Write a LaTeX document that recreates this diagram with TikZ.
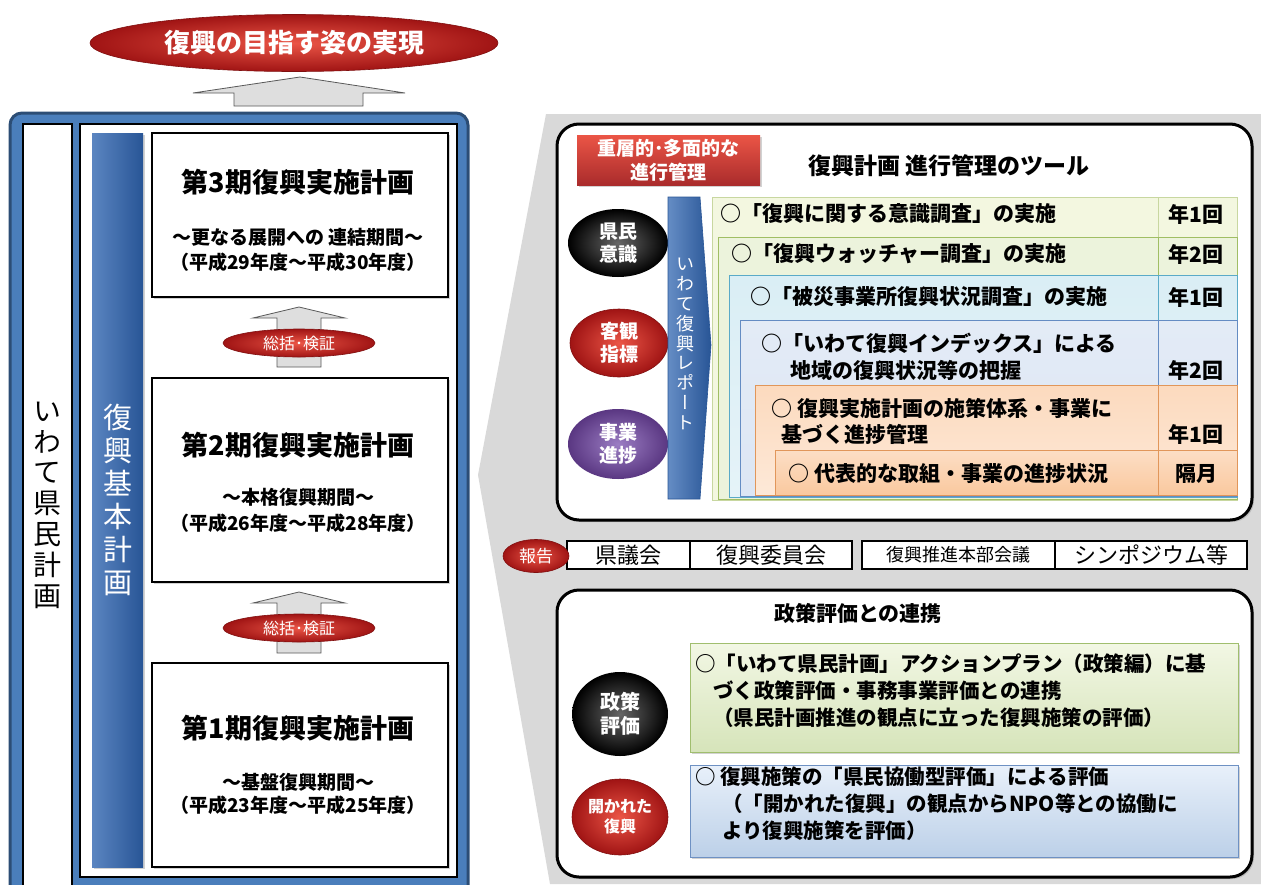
\documentclass[tikz,border=0pt]{standalone}
\usepackage{fontspec}
\setmainfont{Noto Sans CJK JP}
\newfontfamily\jpv[RawFeature={+vert}]{Noto Sans CJK JP}
\usetikzlibrary{shapes.geometric,shadows}
\newcommand\fsz[2]{\fontsize{#1}{#2}\selectfont}
\definecolor{redIn}{RGB}{235,85,70}
\definecolor{redOut}{RGB}{160,20,20}
\definecolor{frameBlue}{RGB}{74,126,187}
\definecolor{frameDark}{RGB}{44,77,117}
\definecolor{barBlue}{RGB}{62,112,182}
\definecolor{barDark}{RGB}{40,85,150}
\definecolor{arrowGray}{RGB}{222,222,222}
\definecolor{funnelGray}{RGB}{217,217,217}
\definecolor{cardA}{RGB}{243,247,224}
\definecolor{cardAb}{RGB}{200,215,160}
\definecolor{cardB}{RGB}{236,243,220}
\definecolor{cardBb}{RGB}{160,190,100}
\definecolor{cardC}{RGB}{218,238,245}
\definecolor{cardCb}{RGB}{90,170,200}
\definecolor{cardD}{RGB}{220,230,244}
\definecolor{cardDb}{RGB}{100,140,195}
\definecolor{cardE}{RGB}{252,218,190}
\definecolor{cardEb}{RGB}{225,150,90}
\definecolor{cardF}{RGB}{250,200,158}
\definecolor{purpIn}{RGB}{155,125,195}
\definecolor{purpOut}{RGB}{90,55,130}
\definecolor{greenTop}{RGB}{242,247,228}
\definecolor{greenBot}{RGB}{214,228,186}
\definecolor{greenBd}{RGB}{160,190,110}
\definecolor{blueTop}{RGB}{232,240,250}
\definecolor{blueBot}{RGB}{188,208,232}
\definecolor{blueBd}{RGB}{110,145,195}
\tikzset{
  shd/.style={drop shadow={opacity=0.35,shadow xshift=2pt,shadow yshift=-2pt}},
  redell/.style={ellipse, inner sep=0pt, shading=radial, inner color=redIn, outer color=redOut, draw=redOut!80!black, line width=0.6, text=white},
  blkell/.style={ellipse, inner sep=0pt, shading=radial, inner color=black!60, outer color=black, text=white, align=center},
  purpell/.style={ellipse, inner sep=0pt, shading=radial, inner color=purpIn, outer color=purpOut, text=white, align=center},
  wbox/.style={rectangle, draw=black, line width=2.5, fill=white, inner sep=0pt},
  panel/.style={rectangle, rounded corners=22, draw=black, line width=3, fill=white, inner sep=0pt, shd},
  grayarrow/.style={draw=black!65, line width=0.8, fill=arrowGray},
  card/.style={rectangle, anchor=north west, inner sep=0pt, line width=0.8},
  rowtxt/.style={anchor=west, inner sep=0pt, font=\bfseries\fsz{21}{24}},
  freqtxt/.style={inner sep=0pt, font=\bfseries\fsz{21}{24}},
  cell/.style={rectangle, draw=black, line width=2, fill=white, inner sep=0pt, minimum height=28},
  evtxt/.style={anchor=west, inner sep=0pt, font=\bfseries\fsz{20.5}{24}},
  ttl/.style={inner sep=0pt, font=\bfseries\fsz{27}{30}},
  sub/.style={inner sep=0pt, font=\bfseries\fsz{19}{22}}
}
\begin{document}
\begin{tikzpicture}[x=1pt,y=-1pt]
\useasboundingbox (0,0) rectangle (1261,884);
\fill[white] (0,0) rectangle (1261,884);
% gray funnel background
\fill[funnelGray] (478,475) -- (546,114) -- (1261,114) -- (1261,884) -- (550,884) -- cycle;
% goal ellipse and arrow
\node[redell, minimum width=408, minimum height=57, font=\bfseries\fsz{26}{28}] (goal) at (294,43) {復興の目指す姿の実現};
\draw[grayarrow] (234,106) -- (234,93) -- (193,93) -- (300,77) -- (405,93) -- (363,93) -- (363,106) -- cycle;
% blue frame
\draw[fill=frameBlue, draw=frameDark, line width=3, rounded corners=12] (10,113) rectangle (468,905);
% left white box
\node[wbox, minimum width=49, minimum height=770] (kenminbox) at (47.5,509) {};
\node[inner sep=0pt, align=center, font=\jpv\fsz{28}{30.8}] (kenmin) at (47.5,505) {い\\わ\\て\\県\\民\\計\\画};
% inner white box
\node[wbox, minimum width=377, minimum height=753] (inner) at (268.5,500.5) {};
% blue bar
\node[rectangle, inner sep=0pt, minimum width=51, minimum height=734, left color=barBlue!85!white, right color=barDark, shd] (kihonbar) at (117.5,500) {};
\node[inner sep=0pt, align=center, text=white, font=\jpv\fsz{29}{33}] (kihon) at (117.5,500) {復\\興\\基\\本\\計\\画};
% period boxes
\node[wbox, shd, minimum width=296, minimum height=164] (p3) at (300,215) {};
\node[ttl] (p3t) at (298,182) {第3期復興実施計画};
\node[sub] (p3s) at (298,237) {～更なる展開への 連結期間～};
\node[sub] (p3y) at (298,262) {（平成29年度～平成30年度）};
\node[wbox, shd, minimum width=296, minimum height=204] (p2) at (300,480) {};
\node[ttl] (p2t) at (298,445) {第2期復興実施計画};
\node[sub] (p2s) at (298,497) {～本格復興期間～};
\node[sub] (p2y) at (298,523) {（平成26年度～平成28年度）};
\node[wbox, shd, minimum width=296, minimum height=204] (p1) at (300,765) {};
\node[ttl] (p1t) at (298,728) {第1期復興実施計画};
\node[sub] (p1s) at (298,782) {～基盤復興期間～};
\node[sub] (p1y) at (298,805) {（平成23年度～平成25年度）};
% arrows between periods
\draw[grayarrow] (277,367) -- (277,318) -- (253,318) -- (299,307) -- (345,318) -- (321,318) -- (321,367) -- cycle;
\node[redell, minimum width=152, minimum height=28, font=\fsz{16}{17}] (rev2) at (299,343) {総括･検証};
\draw[grayarrow] (277,653) -- (277,603) -- (253,603) -- (299,592) -- (345,603) -- (321,603) -- (321,653) -- cycle;
\node[redell, minimum width=152, minimum height=28, font=\fsz{16}{17}] (rev1) at (299,628) {総括･検証};
% ===== top right panel
\node[panel, minimum width=695, minimum height=396] (tools) at (904.5,322) {};
\node[rectangle, inner sep=0pt, minimum width=183, minimum height=50, top color=redIn, bottom color=redOut!90, shd, align=center, text=white, font=\bfseries\fsz{19}{24}] (multi) at (668.5,160) {重層的･多面的な\\進行管理};
\node[inner sep=0pt, font=\bfseries\fsz{23}{26}] (toolttl) at (949,166) {復興計画 進行管理のツール};
\node[blkell, minimum width=100, minimum height=68, font=\bfseries\fsz{19}{23}] (ishiki) at (618,243) {県民\\意識};
\node[redell, align=center, minimum width=98, minimum height=68, font=\bfseries\fsz{19}{23}] (shihyo) at (619,343) {客観\\指標};
\node[purpell, minimum width=100, minimum height=70, font=\bfseries\fsz{19}{23}] (shinchoku) at (618,444) {事業\\進捗};
% report bar
\draw[left color=barBlue!80!white, right color=barDark, draw=barDark, line width=0.6] (668,197) -- (700,197) -- (711,345) -- (700,499) -- (668,499) -- cycle;
\node[inner sep=0pt, align=center, text=white, font=\jpv\fsz{18}{19.8}] (report) at (685,344) {い\\わ\\て\\復\\興\\レ\\ポ\\ー\\ト};
% stacked cards
\node[card, fill=cardA, draw=cardAb, minimum width=525, minimum height=303] (c1) at (712,197) {};
\draw[cardAb, line width=0.8] (1158,197) -- (1158,237);
\node[card, fill=cardB, draw=cardBb, minimum width=519, minimum height=262] (c2) at (718,237) {};
\draw[cardBb, line width=0.8] (1158,237) -- (1158,275);
\node[card, top color=cardC, bottom color=cardC!70!white, draw=cardCb, minimum width=508, minimum height=222] (c3) at (729,275) {};
\draw[cardCb, line width=0.8] (1158,275) -- (1158,320);
\node[card, top color=cardD!80!white, bottom color=cardD, draw=cardDb, minimum width=497, minimum height=176] (c4) at (740,320) {};
\draw[cardDb, line width=0.8] (1158,320) -- (1158,385);
\node[card, top color=cardE, bottom color=cardE!60!white, draw=cardEb, minimum width=482, minimum height=110] (c5) at (755,385) {};
\draw[cardEb, line width=0.8] (1158,385) -- (1158,450);
\node[card, top color=cardF!60!white, bottom color=cardF, draw=cardEb, minimum width=462, minimum height=45] (c6) at (775,450) {};
\draw[cardEb, line width=0.8] (1158,450) -- (1158,495);
\node[rowtxt] (r1) at (720,214) {○「復興に関する意識調査」の実施};
\node[freqtxt] (f1) at (1196,214) {年1回};
\node[rowtxt] (r2) at (731,254) {○「復興ウォッチャー調査」の実施};
\node[freqtxt] (f2) at (1196,254) {年2回};
\node[rowtxt] (r3) at (750,297) {○「被災事業所復興状況調査」の実施};
\node[freqtxt] (f3) at (1196,297) {年1回};
\node[rowtxt] (r4a) at (761,343) {○「いわて復興インデックス」による};
\node[rowtxt] (r4b) at (790,370) {地域の復興状況等の把握};
\node[freqtxt] (f4) at (1196,370) {年2回};
\node[rowtxt] (r5a) at (771,408) {○ 復興実施計画の施策体系・事業に};
\node[rowtxt] (r5b) at (781,434) {基づく進捗管理};
\node[freqtxt] (f5) at (1196,434) {年1回};
\node[rowtxt] (r6) at (788,474) {○ 代表的な取組・事業の進捗状況};
\node[freqtxt] (f6) at (1196,474) {隔月};
% ===== report row
\node[cell, minimum width=123, font=\fsz{22}{24}] (gikai) at (628.5,555) {県議会};
\node[cell, minimum width=162, font=\fsz{22}{24}] (iinkai) at (771,555) {復興委員会};
\node[cell, minimum width=193, font=\fsz{18}{20}] (honbu) at (958.5,555) {復興推進本部会議};
\node[cell, minimum width=192, font=\fsz{22}{24}] (symp) at (1151,555) {シンポジウム等};
\node[redell, minimum width=66, minimum height=33, font=\fsz{17}{18}] (hokoku) at (536,556) {報告};
% ===== bottom panel
\node[panel, minimum width=695, minimum height=287] (eval) at (904.5,733.5) {};
\node[inner sep=0pt, font=\bfseries\fsz{21}{24}] (evalttl) at (858,613) {政策評価との連携};
\node[rectangle, anchor=north west, inner sep=0pt, minimum width=548, minimum height=109, top color=greenTop, bottom color=greenBot, draw=greenBd, line width=0.8, shd] (gbox) at (690,643) {};
\node[rectangle, anchor=north west, inner sep=0pt, minimum width=548, minimum height=92, top color=blueTop, bottom color=blueBot, draw=blueBd, line width=0.8, shd] (bbox) at (690,765) {};
\node[blkell, minimum width=96, minimum height=84, font=\bfseries\fsz{20}{24}] (seisaku) at (620,714) {政策\\評価};
\node[redell, align=center, minimum width=96, minimum height=76, font=\bfseries\fsz{16}{20}] (hiraku) at (620,817) {開かれた\\復興};
\node[evtxt] (g1) at (695,664) {○「いわて県民計画」アクションプラン（政策編）に基};
\node[evtxt] (g2) at (713,691) {づく政策評価・事務事業評価との連携};
\node[evtxt] (g3) at (713,718) {（県民計画推進の観点に立った復興施策の評価）};
\node[evtxt] (b1) at (695,777) {○ 復興施策の「県民協働型評価」による評価};
\node[evtxt] (b2) at (722,804) {（「開かれた復興」の観点からNPO等との協働に};
\node[evtxt] (b3) at (722,831) {より復興施策を評価）};
\end{tikzpicture}
\end{document}
